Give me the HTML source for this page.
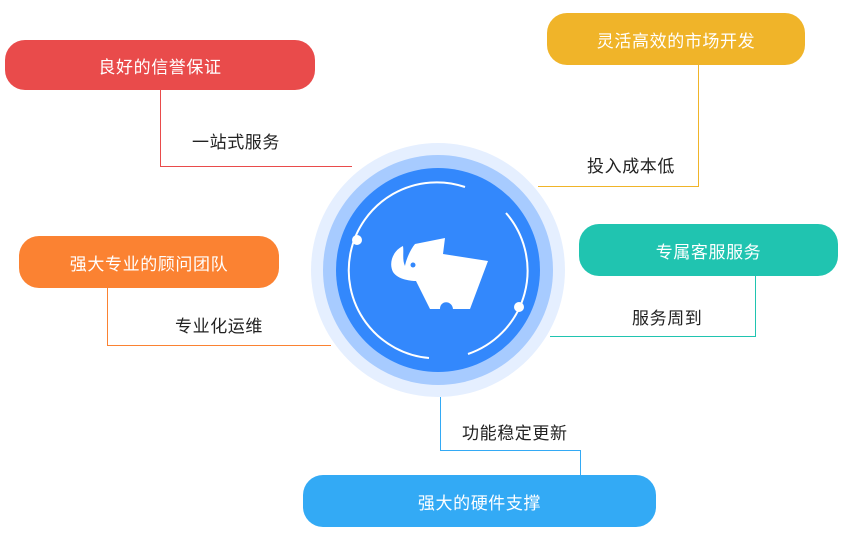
<!DOCTYPE html>
<html><head><meta charset="utf-8"><style>
body{margin:0;width:850px;height:540px;background:#fff;position:relative;overflow:hidden;font-family:"Liberation Sans","Noto Sans CJK SC",sans-serif}
.b{position:absolute;color:#fff;font-size:17px;letter-spacing:0.6px;display:flex;align-items:center;justify-content:center;border-radius:20px}
.l{position:absolute;font-size:17px;letter-spacing:0.6px;color:#222;line-height:20px}
</style></head><body>
<svg width="850" height="540" style="position:absolute;left:0;top:0">
<g fill="none" stroke-width="1" shape-rendering="crispEdges">
<polyline points="160.5,90 160.5,166.5 352,166.5" stroke="#e94b4b"/>
<polyline points="698.5,65 698.5,186.5 538,186.5" stroke="#f0b429"/>
<polyline points="107.5,288 107.5,345.5 331,345.5" stroke="#fb8232"/>
<polyline points="755.5,276 755.5,336.5 550,336.5" stroke="#20c4b0"/>
<polyline points="440.5,397 440.5,450.5 580.5,450.5 580.5,475" stroke="#33aaf5"/>
</g>
<circle cx="438" cy="270" r="127" fill="#e5efff"/>
<circle cx="438" cy="270" r="115" fill="#a7cbff"/>
<circle cx="438" cy="270" r="102" fill="#3388fc"/>
<path d="M465,187 A88,88 0 1 0 429,358" fill="none" stroke="#fff" stroke-width="2"/>
<path d="M506,213 A88,88 0 0 1 468,354" fill="none" stroke="#fff" stroke-width="2"/>
<circle cx="357" cy="240" r="5" fill="#fff"/>
<circle cx="519" cy="307" r="5" fill="#fff"/>
<path d="M403,246 C394,250 388,262 393,272 C398,280 412,281 416,281 L430,309 L440,309 C440,300 452,300 453,309 L470,309 L488,261 L443,254 L445,238 C435,240 425,242 415,244 C410,250 406,260 405,266 C402,260 404,252 403,246 Z" fill="#fff"/>
<circle cx="413" cy="265" r="2.5" fill="#3388fc"/>
</svg>
<div class="b" style="left:5px;top:40px;width:310px;height:50px;background:#e94b4b">良好的信誉保证</div>
<div class="b" style="left:547px;top:13px;width:258px;height:52px;background:#f0b429">灵活高效的市场开发</div>
<div class="b" style="left:19px;top:236px;width:260px;height:52px;background:#fb8232">强大专业的顾问团队</div>
<div class="b" style="left:579px;top:224px;width:259px;height:52px;background:#20c4b0">专属客服服务</div>
<div class="b" style="left:303px;top:475px;width:353px;height:52px;background:#33aaf5">强大的硬件支撑</div>
<div class="l" style="left:192px;top:133px">一站式服务</div>
<div class="l" style="left:587px;top:157px">投入成本低</div>
<div class="l" style="left:175px;top:317px">专业化运维</div>
<div class="l" style="left:632px;top:309px">服务周到</div>
<div class="l" style="left:462px;top:424px">功能稳定更新</div>
</body></html>
